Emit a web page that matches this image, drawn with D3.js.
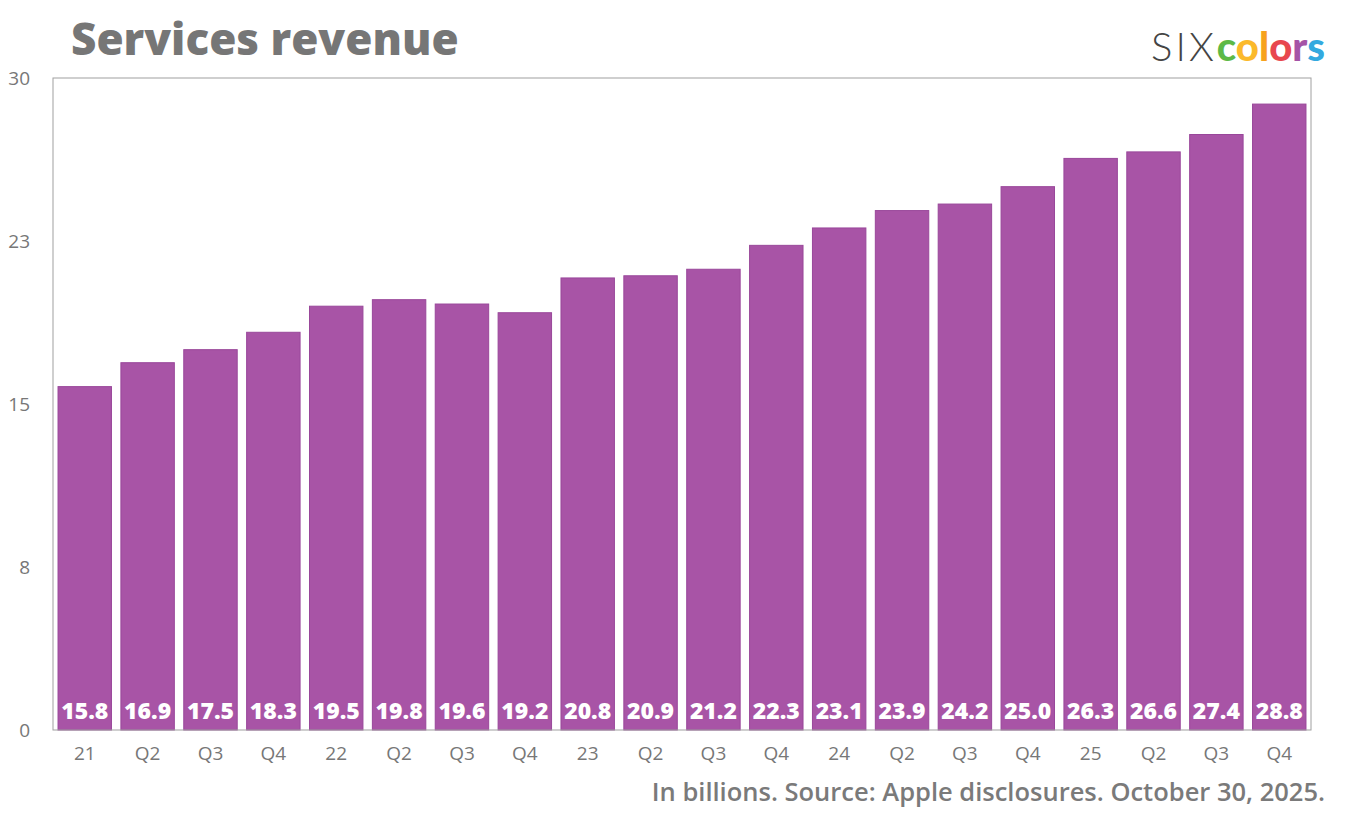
<head>
    <meta charset="UTF-8">
    <script src="https://d3js.org/d3.v7.min.js"></script>
    <style>
        body { margin: 0; background: #fff; }
        text { font-family: "Open Sans", "Lato", sans-serif; }
        .frame { fill: none; stroke: #a0a0a0; stroke-width: 1px; }
        .bar { fill: #a854a6; stroke: #99479a; stroke-width: 1px; }
        .barLabel { fill: #fff; font-weight: 800; font-size: 23px; }
        .tick text { fill: #777; font-size: 19px; }
        .title { fill: #767676; font-weight: 800; font-size: 44px; }
        .footer { fill: #7a7a7a; font-weight: 600; font-size: 25.5px; }
    </style>
</head>
<body>
    <svg id="chart" width="1360" height="835"></svg>
    <script>
        // quarters, fiscal 2021 Q1 .. 2025 Q4
        const quarters = ["21", "Q2", "Q3", "Q4", "22", "Q2", "Q3", "Q4", "23", "Q2",
                          "Q3", "Q4", "24", "Q2", "Q3", "Q4", "25", "Q2", "Q3", "Q4"];
        const revenue = [15.8, 16.9, 17.5, 18.3, 19.5, 19.8, 19.6, 19.2, 20.8, 20.9,
                         21.2, 22.3, 23.1, 23.9, 24.2, 25.0, 26.3, 26.6, 27.4, 28.8];
        const yTicks = [0, 7.5, 15, 22.5, 30];

        const svg = d3.select("svg#chart");
        const margin = {top: 78, right: 49, bottom: 105, left: 53};
        const width = +svg.attr("width");
        const height = +svg.attr("height");
        const plotW = width - margin.left - margin.right;
        const plotH = height - margin.top - margin.bottom;

        const x = d3.scaleBand()
            .domain(d3.range(quarters.length))
            .range([margin.left, margin.left + plotW])
            .paddingInner(0.15)
            .paddingOuter(0.08);
        const y = d3.scaleLinear().domain([0, 30]).range([margin.top + plotH, margin.top]);

        svg.append("text")
            .attr("class", "title")
            .attr("x", 71).attr("y", 55)
            .text("Services revenue");

        // logo
        const logo = svg.append("text")
            .attr("x", 1325).attr("y", 61)
            .attr("text-anchor", "end")
            .style("font-size", "40px");
        logo.append("tspan").text("SIX")
            .style("font-weight", 300).style("fill", "#444")
            .style("font-family", "Lato").style("letter-spacing", "3px");
        const logoColors = ["#5cb947", "#fbb92b", "#f7a21d", "#e8474e", "#a553a6", "#33a9df"];
        "colors".split("").forEach((c, i) => {
            logo.append("tspan").text(c)
                .style("font-family", "Lato")
                .style("font-weight", 900)
                .style("fill", logoColors[i]);
        });

        // y axis
        const yAxis = svg.append("g")
            .attr("transform", `translate(${margin.left},0)`)
            .call(d3.axisLeft(y).tickValues(yTicks).tickFormat(d3.format(".0f")).tickSize(0).tickPadding(23));
        yAxis.select(".domain").remove();
        yAxis.selectAll("text").attr("dy", "0.36em");

        // x axis
        const xAxis = svg.append("g")
            .attr("transform", `translate(0,${margin.top + plotH})`)
            .call(d3.axisBottom(x).tickFormat(i => quarters[i]).tickSize(0));
        xAxis.select(".domain").remove();
        xAxis.selectAll("text").attr("y", 30).attr("dy", 0);

        svg.selectAll("rect.bar")
            .data(revenue)
            .enter()
            .append("rect")
            .attr("class", "bar")
            .attr("x", (d, i) => x(i))
            .attr("width", x.bandwidth())
            .attr("y", d => y(d))
            .attr("height", d => y(0) - y(d));

        svg.selectAll("text.barLabel")
            .data(revenue)
            .enter()
            .append("text")
            .attr("class", "barLabel")
            .attr("text-anchor", "middle")
            .attr("x", (d, i) => x(i) + x.bandwidth() / 2)
            .attr("y", y(0) - 11)
            .text(d => d.toFixed(1));

        svg.append("rect")
            .attr("class", "frame")
            .attr("x", margin.left).attr("y", margin.top)
            .attr("width", plotW).attr("height", plotH);

        svg.append("text")
            .attr("class", "footer")
            .attr("x", 1325).attr("y", 801)
            .attr("text-anchor", "end")
            .text("In billions. Source: Apple disclosures. October 30, 2025.");
    </script>
</body>
